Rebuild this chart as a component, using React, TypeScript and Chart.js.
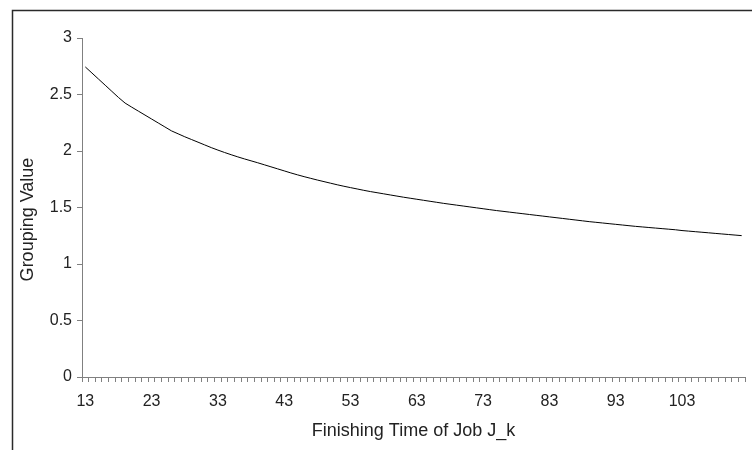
import React, { useEffect, useRef } from "react";
import { Chart, registerables } from "chart.js";

Chart.register(...registerables);

const finishingTimes: number[] = [
  13, 14, 15, 16, 17, 18, 19, 20, 21, 22, 23, 24, 25, 26, 27, 28, 29, 30, 31, 32,
  33, 34, 35, 36, 37, 38, 39, 40, 41, 42, 43, 44, 45, 46, 47, 48, 49, 50, 51, 52,
  53, 54, 55, 56, 57, 58, 59, 60, 61, 62, 63, 64, 65, 66, 67, 68, 69, 70, 71, 72,
  73, 74, 75, 76, 77, 78, 79, 80, 81, 82, 83, 84, 85, 86, 87, 88, 89, 90, 91, 92,
  93, 94, 95, 96, 97, 98, 99, 100, 101, 102, 103, 104, 105, 106, 107, 108, 109, 110, 111, 112,
];

const groupingValues: number[] = [
  2.744, 2.69, 2.636, 2.582, 2.528, 2.474, 2.424, 2.388, 2.353, 2.318,
  2.283, 2.248, 2.213, 2.178, 2.152, 2.126, 2.102, 2.078, 2.054, 2.03,
  2.008, 1.987, 1.967, 1.948, 1.93, 1.913, 1.896, 1.878, 1.86, 1.842,
  1.824, 1.806, 1.789, 1.773, 1.758, 1.743, 1.729, 1.715, 1.701, 1.688,
  1.676, 1.664, 1.652, 1.641, 1.631, 1.621, 1.611, 1.601, 1.591, 1.582,
  1.573, 1.564, 1.555, 1.546, 1.537, 1.529, 1.521, 1.513, 1.505, 1.497,
  1.489, 1.481, 1.473, 1.466, 1.459, 1.452, 1.445, 1.438, 1.431, 1.424,
  1.417, 1.41, 1.403, 1.396, 1.389, 1.382, 1.375, 1.369, 1.363, 1.357,
  1.351, 1.345, 1.339, 1.333, 1.328, 1.323, 1.318, 1.313, 1.308, 1.303,
  1.296, 1.291, 1.286, 1.281, 1.276, 1.271, 1.266, 1.261, 1.256, 1.251,
];

const labelEvery = 10;
const xTitle = "Finishing Time of Job J_k";
const yTitle = "Grouping Value";

const FONT = "'Liberation Sans', Arial, sans-serif";

const framePlugin = {
  id: "frame",
  beforeDraw(chart: any) {
    const ctx = chart.ctx;
    ctx.save();
    ctx.fillStyle = "#ffffff";
    ctx.fillRect(0, 0, chart.width, chart.height);
    ctx.strokeStyle = "#2a2a2a";
    ctx.lineWidth = 1.5;
    ctx.beginPath();
    ctx.moveTo(12.5, chart.height);
    ctx.lineTo(12.5, 10.5);
    ctx.lineTo(chart.width, 10.5);
    ctx.stroke();
    ctx.restore();
  },
  afterDraw(chart: any) {
    const ctx = chart.ctx;
    const area = chart.chartArea;
    ctx.save();
    ctx.translate(28, (area.top + area.bottom) / 2 + 12);
    ctx.rotate(-Math.PI / 2);
    ctx.fillStyle = "#222222";
    ctx.font = "18px " + FONT;
    ctx.textAlign = "center";
    ctx.textBaseline = "middle";
    ctx.fillText(yTitle, 0, 0);
    ctx.restore();
  },
};

export default function App() {
  const ref = useRef<HTMLCanvasElement | null>(null);

  useEffect(() => {
    if (!ref.current) return;
    const chart = new Chart(ref.current, {
      type: "line",
      data: {
        labels: finishingTimes.map(String),
        datasets: [
          {
            data: groupingValues,
            borderColor: "#000000",
            borderWidth: 1,
            pointRadius: 0,
            tension: 0,
            fill: false,
          },
        ],
      },
      options: {
        responsive: false,
        animation: false,
        devicePixelRatio: 1,
        layout: { padding: { left: 0, top: 38, right: 7, bottom: 0 } },
        plugins: {
          legend: { display: false },
          tooltip: { enabled: false },
        },
        scales: {
          x: {
            type: "category",
            offset: true,
            afterFit: (scale: any) => {
              scale.height = 73;
            },
            grid: {
              display: true,
              offset: true,
              drawOnChartArea: false,
              drawTicks: true,
              tickLength: 5,
              color: "#808080",
            },
            border: { display: true, color: "#808080", width: 1 },
            ticks: {
              autoSkip: false,
              maxRotation: 0,
              minRotation: 0,
              padding: 10,
              color: "#222222",
              font: { family: FONT, size: 16 },
              callback: (_v: any, i: number) =>
                i % labelEvery === 0 ? String(finishingTimes[i]) : "",
            },
            title: {
              display: true,
              text: xTitle,
              color: "#222222",
              font: { family: FONT, size: 18 },
              padding: { top: 2, bottom: 8 },
            },
          },
          y: {
            min: 0,
            max: 3,
            afterFit: (scale: any) => {
              scale.width = 82;
            },
            grid: {
              display: true,
              drawOnChartArea: false,
              drawTicks: true,
              tickLength: 5,
              color: "#808080",
            },
            border: { display: true, color: "#808080", width: 1 },
            ticks: {
              stepSize: 0.5,
              padding: 5,
              color: "#222222",
              font: { family: FONT, size: 16 },
              callback: (v: any) => String(v),
            },
            title: { display: false, text: yTitle },
          },
        },
      },
      plugins: [framePlugin],
    });
    return () => chart.destroy();
  }, []);

  return (
    <div style={{ position: "fixed", left: 0, top: 0, width: 752, height: 450, background: "#fff" }}>
      <canvas ref={ref} width={752} height={450} style={{ display: "block" }} />
    </div>
  );
}
